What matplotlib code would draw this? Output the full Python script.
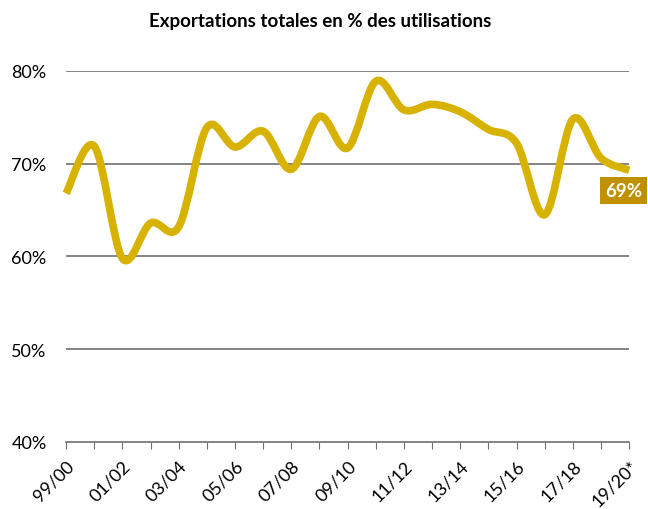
import numpy as np
import matplotlib.pyplot as plt
from matplotlib.path import Path
from matplotlib.patches import PathPatch

plt.rcParams['font.family'] = ['Lato', 'DejaVu Sans']

seasons = ["99/00", "00/01", "01/02", "02/03", "03/04", "04/05", "05/06",
           "06/07", "07/08", "08/09", "09/10", "10/11", "11/12", "12/13",
           "13/14", "14/15", "15/16", "16/17", "17/18", "18/19", "19/20*"]
export_pct = [66.8, 71.9, 59.8, 63.6, 63.2, 73.9, 71.8, 73.5, 69.4, 75.1, 71.7,
              78.9, 75.8, 76.4, 75.6, 73.7, 72.2, 64.5, 74.8, 70.6, 69.3]
last_label = "69%"

gold = '#D8B200'
dark_gold = '#BF9000'

fig = plt.figure(figsize=(6.48, 5.10), dpi=100)
ax = fig.add_axes([0.102, 0.1314, 0.869, 0.7275])

# smoothed line (excel-like bezier through the points)
x = np.arange(len(export_pct), dtype=float)
y = np.array(export_pct)
pts = np.column_stack([x, y])
ext = np.vstack([pts[0], pts, pts[-1]])
verts = [pts[0]]
codes = [Path.MOVETO]
for i in range(len(pts) - 1):
    p0, p1, p2, p3 = ext[i], ext[i + 1], ext[i + 2], ext[i + 3]
    c1 = p1 + (p2 - p0) / 6
    c2 = p2 - (p3 - p1) / 6
    verts += [c1, c2, p2]
    codes += [Path.CURVE4] * 3
ax.add_patch(PathPatch(Path(verts, codes), facecolor='none', edgecolor=gold,
                       lw=5.5, capstyle='butt', joinstyle='round', zorder=3,
                       clip_on=False))

ax.set_xlim(0, len(seasons) - 1)
ax.set_ylim(40, 80)
ax.set_yticks([40, 50, 60, 70, 80])
ax.set_yticklabels([f"{v}%" for v in [40, 50, 60, 70, 80]], fontsize=13)
for v in [50, 60, 70, 80]:
    ax.axhline(v, color='#707070', lw=1.2, zorder=1)

ax.set_xticks(x)
ax.set_xticklabels([s if i % 2 == 0 else "" for i, s in enumerate(seasons)],
                   rotation=45, ha='right', va='top', rotation_mode='anchor',
                   fontsize=13)
ax.tick_params(axis='x', length=5, color='#707070', pad=6)
ax.tick_params(axis='y', length=0, pad=14)

for s in ['top', 'right', 'left']:
    ax.spines[s].set_visible(False)
ax.spines['bottom'].set_color('#707070')
ax.spines['bottom'].set_linewidth(1.2)

ax.text(19.8, 67.1, last_label, color='white', fontsize=13.5, fontweight='bold',
        ha='center', va='center', zorder=4, clip_on=False,
        bbox=dict(boxstyle='square,pad=0.25', fc=dark_gold, ec='none'))

fig.suptitle("Exportations totales en % des utilisations", x=0.494, y=0.975,
             fontsize=13.5, fontweight='bold')

fig.savefig('out.png', dpi=100)
